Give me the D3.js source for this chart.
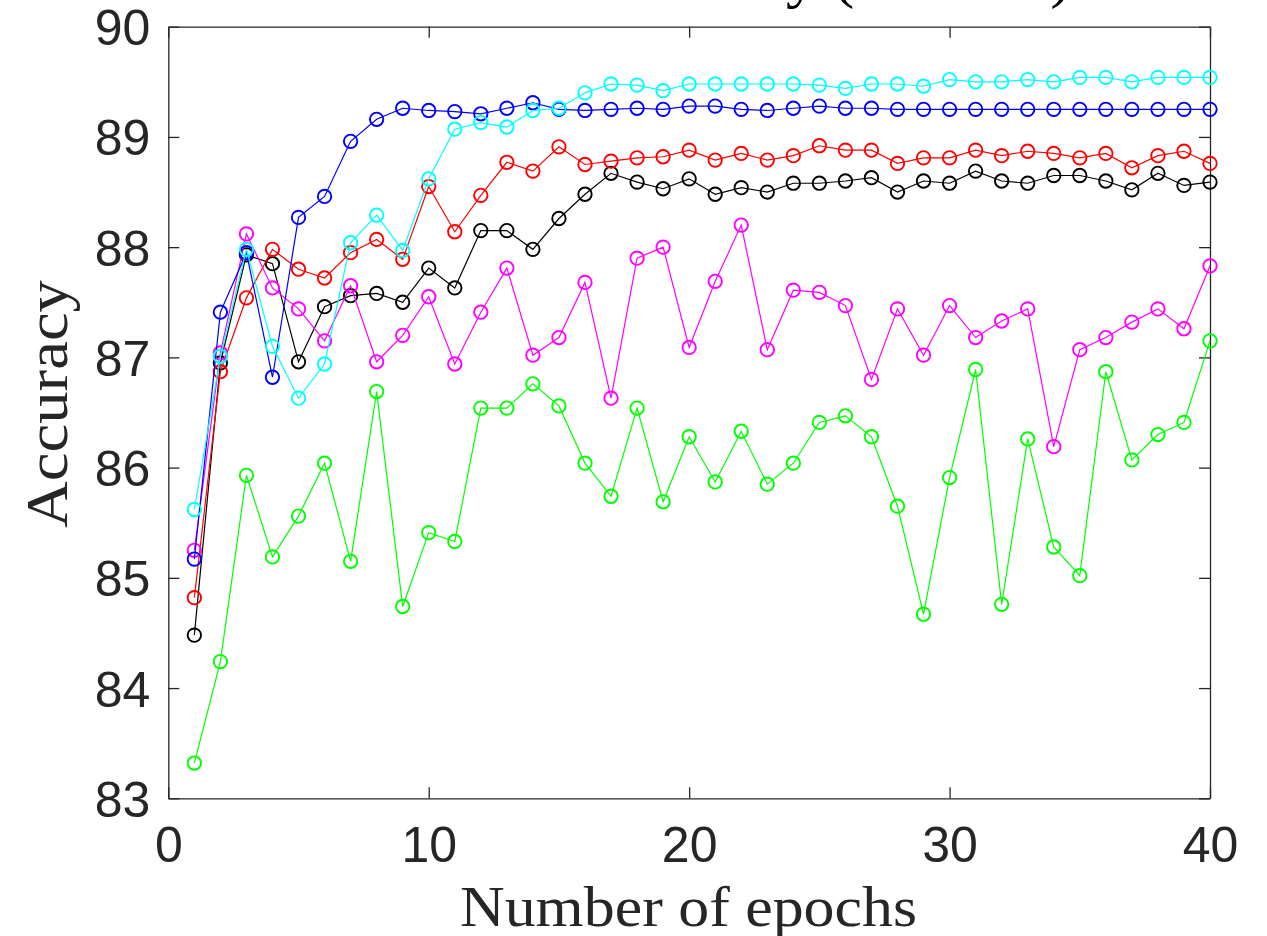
<!DOCTYPE html>
<html>
<head>
<meta charset="utf-8">
<script src="https://cdn.jsdelivr.net/npm/d3@7"></script>
<style>
  html, body { margin: 0; padding: 0; background: #fff; }
  svg { display: block; }
</style>
</head>
<body>
<svg id="chart" width="1267" height="936"></svg>
<script>
// Validation accuracy per epoch for six training runs
const epochs = d3.range(1, 41);

const accBlue = [85.17, 87.41, 87.95, 86.82, 88.27, 88.46, 88.96, 89.16, 89.26, 89.24,
  89.23, 89.21, 89.26, 89.31, 89.25, 89.24, 89.25, 89.26, 89.25, 89.28,
  89.28, 89.25, 89.24, 89.26, 89.28, 89.26, 89.26, 89.25, 89.25, 89.25,
  89.25, 89.25, 89.25, 89.25, 89.25, 89.25, 89.25, 89.25, 89.25, 89.25];

const accCyan = [85.62, 87.01, 87.98, 87.10, 86.63, 86.94, 88.04, 88.29, 87.97, 88.62,
  89.07, 89.13, 89.09, 89.24, 89.26, 89.40, 89.48, 89.47, 89.42, 89.48,
  89.48, 89.48, 89.48, 89.48, 89.47, 89.44, 89.48, 89.48, 89.46, 89.52,
  89.50, 89.50, 89.52, 89.50, 89.54, 89.54, 89.50, 89.54, 89.54, 89.54];

const accRed = [84.82, 86.87, 87.54, 87.98, 87.80, 87.72, 87.95, 88.07, 87.89, 88.55,
  88.14, 88.47, 88.77, 88.69, 88.91, 88.75, 88.78, 88.81, 88.82, 88.88,
  88.79, 88.85, 88.79, 88.83, 88.92, 88.88, 88.88, 88.76, 88.81, 88.81,
  88.88, 88.83, 88.87, 88.85, 88.81, 88.85, 88.72, 88.83, 88.87, 88.76];

const accBlack = [84.48, 86.95, 87.93, 87.85, 86.96, 87.46, 87.56, 87.58, 87.50, 87.81,
  87.63, 88.15, 88.15, 87.98, 88.26, 88.48, 88.67, 88.59, 88.53, 88.62,
  88.48, 88.54, 88.50, 88.58, 88.58, 88.60, 88.63, 88.50, 88.60, 88.58,
  88.69, 88.60, 88.58, 88.65, 88.65, 88.60, 88.52, 88.67, 88.56, 88.59];

const accMagenta = [85.25, 87.04, 88.12, 87.63, 87.44, 87.15, 87.65, 86.96, 87.20, 87.55,
  86.94, 87.41, 87.81, 87.02, 87.18, 87.68, 86.63, 87.90, 88.00, 87.09,
  87.69, 88.20, 87.07, 87.61, 87.59, 87.47, 86.80, 87.44, 87.02, 87.47,
  87.18, 87.33, 87.44, 86.19, 87.07, 87.18, 87.32, 87.44, 87.26, 87.83];

const accGreen = [83.32, 84.24, 85.93, 85.19, 85.56, 86.04, 85.15, 86.69, 84.74, 85.41,
  85.33, 86.54, 86.54, 86.76, 86.56, 86.04, 85.74, 86.54, 85.69, 86.28,
  85.87, 86.33, 85.85, 86.04, 86.41, 86.47, 86.28, 85.65, 84.67, 85.91,
  86.89, 84.76, 86.26, 85.28, 85.02, 86.87, 86.07, 86.30, 86.41, 87.15];

const xTicks = [0, 10, 20, 30, 40];
const yTicks = [83, 84, 85, 86, 87, 88, 89, 90];

const titleText = "Validation accuracy (MNIST)";
const xLabel = "Number of epochs";
const yLabel = "Accuracy";

// Series in drawing order (later ones sit on top)
const series = [
  { values: accGreen, color: "#00ff00" },
  { values: accBlack, color: "#000000" },
  { values: accRed, color: "#ff0000" },
  { values: accMagenta, color: "#ff00ff" },
  { values: accBlue, color: "#0000ff" },
  { values: accCyan, color: "#00ffff" }
];

const svg = d3.select("#chart");
const box = { left: 168.3, right: 1210, top: 26.7, bottom: 798.3 };
const axisColor = "#262626";

const x = d3.scaleLinear().domain([0, 40]).range([box.left, box.right]);
const y = d3.scaleLinear().domain([83, 90]).range([box.bottom, box.top]);

// Title (sits above the axes box, mostly beyond the top edge)
svg.append("text")
  .attr("x", (box.left + box.right) / 2 + 6)
  .attr("y", -4)
  .attr("text-anchor", "middle")
  .attr("font-family", "'Liberation Serif', 'Times New Roman', serif")
  .attr("font-size", 62)
  .attr("textLength", 752)
  .attr("lengthAdjust", "spacingAndGlyphs")
  .attr("fill", "#000")
  .text(titleText);

// Axes: labelled left/bottom, mirrored inward ticks on top/right
const tickFont = "'Liberation Sans', Arial, Helvetica, sans-serif";

function styleAxis(g) {
  g.selectAll("path.domain").attr("stroke", axisColor).attr("stroke-width", 1.3);
  g.selectAll(".tick line").attr("stroke", axisColor).attr("stroke-width", 1.3);
  g.selectAll(".tick text")
    .attr("fill", axisColor)
    .attr("font-family", tickFont)
    .attr("font-size", 50);
}

const gLeft = svg.append("g")
  .attr("transform", `translate(${box.left},0)`)
  .call(d3.axisLeft(y).tickValues(yTicks).tickFormat(d3.format("d"))
    .tickSizeInner(-11).tickSizeOuter(0).tickPadding(18));
styleAxis(gLeft);
gLeft.selectAll(".tick text").attr("dy", "0.36em");

const gBottom = svg.append("g")
  .attr("transform", `translate(0,${box.bottom})`)
  .call(d3.axisBottom(x).tickValues(xTicks).tickFormat(d3.format("d"))
    .tickSizeInner(-11).tickSizeOuter(0).tickPadding(28));
styleAxis(gBottom);
gBottom.selectAll(".tick text").attr("dy", "0.71em");

const gTop = svg.append("g")
  .attr("transform", `translate(0,${box.top})`)
  .call(d3.axisTop(x).tickValues(xTicks).tickFormat("")
    .tickSizeInner(-11).tickSizeOuter(0));
styleAxis(gTop);

const gRight = svg.append("g")
  .attr("transform", `translate(${box.right},0)`)
  .call(d3.axisRight(y).tickValues(yTicks).tickFormat("")
    .tickSizeInner(-11).tickSizeOuter(0));
styleAxis(gRight);

// Axis labels
svg.append("text")
  .attr("x", 688.5)
  .attr("y", 926)
  .attr("text-anchor", "middle")
  .attr("font-family", "'Liberation Serif', 'Times New Roman', serif")
  .attr("font-size", 58)
  .attr("textLength", 457)
  .attr("lengthAdjust", "spacingAndGlyphs")
  .attr("fill", axisColor)
  .text(xLabel);

svg.append("text")
  .attr("transform", "translate(67,404) rotate(-90)")
  .attr("text-anchor", "middle")
  .attr("font-family", "'Liberation Serif', 'Times New Roman', serif")
  .attr("font-size", 59)
  .attr("textLength", 248)
  .attr("lengthAdjust", "spacingAndGlyphs")
  .attr("fill", axisColor)
  .text(yLabel);

// Lines with open circle markers
const line = d3.line()
  .x((d, i) => x(epochs[i]))
  .y(d => y(d));

const plot = svg.append("g");
series.forEach(s => {
  const g = plot.append("g");
  g.append("path")
    .datum(s.values)
    .attr("d", line)
    .attr("fill", "none")
    .attr("stroke", s.color)
    .attr("stroke-width", 1.2);
  g.selectAll("circle")
    .data(s.values)
    .join("circle")
    .attr("cx", (d, i) => x(epochs[i]))
    .attr("cy", d => y(d))
    .attr("r", 6.7)
    .attr("fill", "none")
    .attr("stroke", s.color)
    .attr("stroke-width", 1.9);
});
</script>
</body>
</html>
